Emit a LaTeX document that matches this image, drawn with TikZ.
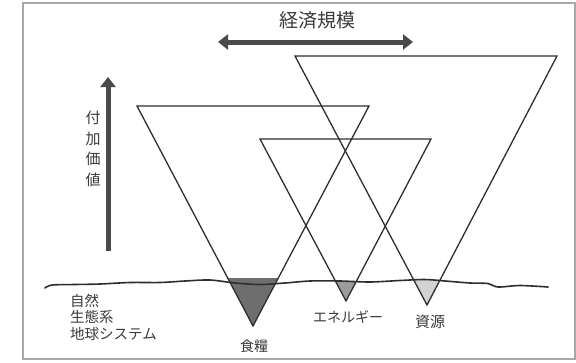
\documentclass[tikz,border=0pt]{standalone}
\usepackage{fontspec}
\setmainfont{Noto Sans CJK JP}
\usetikzlibrary{arrows.meta}
\definecolor{linec}{HTML}{2E2E2E}
\definecolor{arrowc}{HTML}{4A4A4A}
\definecolor{foodc}{HTML}{6E6E6E}
\definecolor{energyc}{HTML}{9C9C9C}
\definecolor{resc}{HTML}{D2D2D2}
\definecolor{framec}{HTML}{A8A8A8}
\definecolor{textc}{HTML}{3A3A3A}
\tikzset{
  tri/.style={draw=linec, line width=1.3pt, line join=miter},
  bigarrow/.style={draw=arrowc, line width=5pt, -{Triangle[length=10pt,width=15pt]}},
  dblarrow/.style={draw=arrowc, line width=5pt, {Triangle[length=10pt,width=15pt]}-{Triangle[length=10pt,width=15pt]}},
  lbl/.style={text=textc, inner sep=0pt, font=\fontsize{14}{16}\selectfont},
  ground/.style={draw=linec, line width=1.6pt, line cap=round},
}
\begin{document}
\begin{tikzpicture}[x=1pt,y=-1pt]
\useasboundingbox (0,0) rectangle (576,362);
\draw[framec, line width=1.2pt] (23,3) rectangle (575,359);
% vertices
\coordinate (fA) at (137,106); \coordinate (fB) at (369,106); \coordinate (fC) at (253,326);
\coordinate (eA) at (260,139); \coordinate (eB) at (431,139); \coordinate (eC) at (346,301);
\coordinate (rA) at (295,56);  \coordinate (rB) at (557,56);  \coordinate (rC) at (427,305);
% fills
\begin{scope}
  \clip (fA) -- (fB) -- (fC) -- cycle;
  \fill[foodc] (100,277.5) rectangle (400,340);
\end{scope}
\begin{scope}
  \clip (eA) -- (eB) -- (eC) -- cycle;
  \fill[energyc] (300,283) -- (330,281.5) -- (360,282) -- (380,282) -- (380,340) -- (300,340) -- cycle;
\end{scope}
\begin{scope}
  \clip (rA) -- (rB) -- (rC) -- cycle;
  \fill[resc] (390,281) -- (410,279.5) -- (430,279.5) -- (450,281) -- (450,340) -- (390,340) -- cycle;
\end{scope}
% ground line
\draw[ground] plot[smooth, tension=0.5] coordinates {(45,288) (52,285) (75,284.5) (100,284) (130,282.5) (160,282.5) (185,281) (210,280) (235,283) (260,284.5) (285,283) (310,281) (340,281) (370,282) (400,280.5) (425,279.5) (445,281) (470,283) (488,283.5) (498,287) (520,285.5) (548,287)};
% triangles
\draw[tri] (fA) -- (fB) -- (fC) -- cycle;
\draw[tri] (eA) -- (eB) -- (eC) -- cycle;
\draw[tri] (rA) -- (rB) -- (rC) -- cycle;
% arrows
\coordinate (hL) at (218,42); \coordinate (hR) at (413,42);
\draw[dblarrow] (hL) -- (hR);
\coordinate (vB) at (108,251); \coordinate (vT) at (108,77);
\draw[bigarrow] (vB) -- (vT);
% labels
\node[lbl, font=\fontsize{19}{21}\selectfont] (title) at (317,20) {経済規模};
\node[lbl, font=\fontsize{15}{20.5}\selectfont, align=center] (va) at (93,149) {付\\加\\価\\値};
\node[lbl, anchor=west, align=left, font=\fontsize{14.5}{16.5}\selectfont] (nature) at (70,317) {自然\\生態系\\地球システム};
\node[lbl] (food) at (254,346) {食糧};
\node[lbl] (energy) at (348,317) {エネルギー};
\node[lbl, font=\fontsize{15}{17}\selectfont] (res) at (430,322) {資源};
\end{tikzpicture}
\end{document}
